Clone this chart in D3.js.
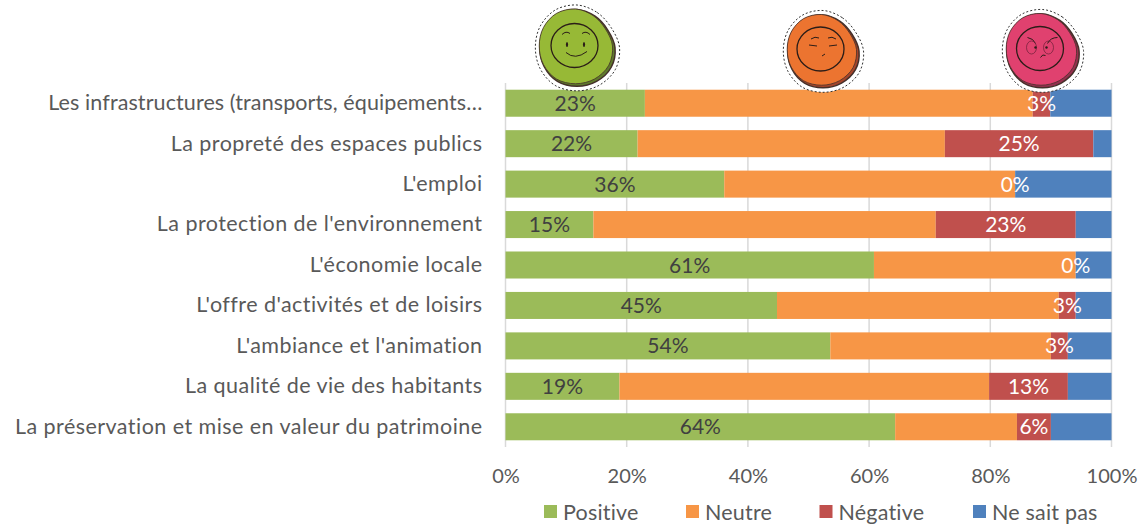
<!DOCTYPE html>
<html>
<head>
<meta charset="utf-8">
<script src="https://d3js.org/d3.v7.min.js"></script>
<style>
	html, body { margin: 0; padding: 0; background: #fff; }
	svg { display: block; }
	text { font-family: Lato, "Open Sans", sans-serif; }
</style>
</head>
<body>
<svg id="chart"></svg>
<script>
const categories = [
	"Les infrastructures (transports, équipements…",
	"La propreté des espaces publics",
	"L'emploi",
	"La protection de l'environnement",
	"L'économie locale",
	"L'offre d'activités et de loisirs",
	"L'ambiance et l'animation",
	"La qualité de vie des habitants",
	"La préservation et mise en valeur du patrimoine"
];
const positive = [23.0, 21.8, 36.1, 14.5, 60.8, 44.8, 53.6, 18.8, 64.3];
const neutre = [64.0, 50.7, 48.0, 56.5, 33.3, 46.5, 36.4, 61.0, 20.1];
const negative = [2.9, 24.5, 0, 23.1, 0, 2.8, 2.8, 13.0, 5.6];
const neSaitPas = [10.1, 3.0, 15.9, 5.9, 5.9, 5.9, 7.2, 7.2, 10.0];
const seriesNames = ["Positive", "Neutre", "Négative", "Ne sait pas"];
const seriesColors = ["#9bbb59", "#f79646", "#c0504d", "#4f81bd"];
const xTicks = [0, 20, 40, 60, 80, 100];

// hand-drawn outline of the smiley stickers, one radius per 30 degrees
const blobShape = [1.0, 0.95, 0.93, 1.0, 1.04, 1.03, 1.02, 1.03, 1.0, 0.98, 1.0, 1.02];
const stickers = [
	{ name: "positive", cx: 577, cy: 47.5, r: 42.5, fill: "#97b936", rim: "#5f7a2c" },
	{ name: "neutre", cx: 823, cy: 51, r: 40.5, fill: "#ec7430", rim: "#a6452a" },
	{ name: "negative", cx: 1042.5, cy: 50.5, r: 41, fill: "#e0416f", rim: "#96304f" }
];

const viewWidth = 1141;
const viewHeight = 524;
const margin = { left: 505.5, right: 29.5, top: 83, bottom: 77 };
const width = viewWidth - margin.left - margin.right;
const height = viewHeight - margin.top - margin.bottom;

const svg = d3.select("#chart")
	.attr("width", viewWidth)
	.attr("height", viewHeight);

const plot = svg.append("g")
	.attr("transform", "translate(" + margin.left + "," + margin.top + ")");

const x = d3.scaleLinear().domain([0, 100]).range([0, width]);
const y = d3.scaleBand().domain(categories).range([0, height])
	.paddingInner(0.332).paddingOuter(0.166);

// gridlines
plot.selectAll("line.grid")
	.data(xTicks)
	.join("line")
	.attr("class", "grid")
	.attr("x1", d => x(d))
	.attr("x2", d => x(d))
	.attr("y1", 0)
	.attr("y2", height)
	.attr("stroke", "#d9d9d9")
	.attr("stroke-width", 1.5);

// stacked bars
const rows = categories.map((c, i) => ({
	category: c,
	Positive: positive[i],
	Neutre: neutre[i],
	"Négative": negative[i],
	"Ne sait pas": neSaitPas[i]
}));
const stacked = d3.stack().keys(seriesNames)(rows);

const layers = plot.selectAll("g.layer")
	.data(stacked)
	.join("g")
	.attr("class", "layer")
	.attr("fill", (d, i) => seriesColors[i]);

layers.selectAll("rect")
	.data(d => d)
	.join("rect")
	.attr("x", d => x(d[0]))
	.attr("y", d => y(d.data.category))
	.attr("width", d => x(d[1]) - x(d[0]))
	.attr("height", y.bandwidth());

// only the Positive and Négative series carry labels
[0, 2].forEach(s => {
	plot.append("g")
		.selectAll("text")
		.data(stacked[s])
		.join("text")
		.attr("x", d => x((d[0] + d[1]) / 2))
		.attr("y", d => y(d.data.category) + y.bandwidth() / 2)
		.attr("dy", ".36em")
		.attr("text-anchor", "middle")
		.attr("font-size", 21)
		.attr("fill", s === 0 ? "#404040" : "#fff")
		.text(d => Math.round(d[1] - d[0]) + "%");
});

// axes
const xAxis = plot.append("g")
	.attr("transform", "translate(0," + height + ")")
	.call(d3.axisBottom(x).tickValues(xTicks).tickSize(0).tickPadding(22).tickFormat(d => d + "%"));
xAxis.select(".domain").remove();
xAxis.selectAll("text").attr("font-size", 20).attr("fill", "#595959");

const yAxis = plot.append("g")
	.call(d3.axisLeft(y).tickSize(0).tickPadding(23));
yAxis.select(".domain").remove();
yAxis.selectAll("text")
	.attr("font-size", 21.5)
	.attr("letter-spacing", (d, i) => i === 0 ? 0.1 : 0.45)
	.attr("fill", "#595959");

// legend
const legendX = d3.scaleOrdinal().domain(seriesNames).range([544, 686, 819.5, 973]);
const legend = svg.append("g")
	.selectAll("g")
	.data(seriesNames)
	.join("g")
	.attr("transform", d => "translate(" + legendX(d) + ",505)");
legend.append("rect")
	.attr("width", 13)
	.attr("height", 13)
	.attr("fill", (d, i) => seriesColors[i]);
legend.append("text")
	.attr("x", 19)
	.attr("y", 14.5)
	.attr("font-size", 21.5)
	.attr("letter-spacing", 0.2)
	.attr("fill", "#595959")
	.text(d => d);

// stickers above the columns
function blob(r) {
	return d3.lineRadial()
		.angle((d, i) => i * Math.PI / 6)
		.radius(d => d * r)
		.curve(d3.curveCardinalClosed)(blobShape);
}

const sticker = svg.append("g")
	.selectAll("g")
	.data(stickers)
	.join("g")
	.attr("transform", d => "translate(" + d.cx + "," + d.cy + ")");

sticker.append("path")
	.attr("d", d => blob(d.r))
	.attr("fill", "#fff")
	.attr("stroke", "#333")
	.attr("stroke-width", 1)
	.attr("stroke-dasharray", "2 2");
sticker.append("path")
	.attr("d", d => blob(d.r - 4.5))
	.attr("fill", d => d.rim)
	.attr("stroke", "#44302a")
	.attr("stroke-width", 1.5);
sticker.append("path")
	.attr("d", d => blob(d.r - 5.5))
	.attr("transform", "translate(-1.5,-1.5)")
	.attr("fill", d => d.fill)
	.attr("stroke", "#44302a")
	.attr("stroke-width", 0.8);
sticker.append("ellipse")
	.attr("cx", -2.5)
	.attr("cy", -2)
	.attr("rx", 23.5)
	.attr("ry", 22)
	.attr("fill", "none")
	.attr("stroke", "#2b1d18")
	.attr("stroke-width", 1.3);

const faces = {
	positive: [
		"M-15,-13 Q-11,-17 -7,-14", "M5,-14 Q9,-17 13,-13",
		"M-11,5 Q-2,13 10,4"
	],
	neutre: [
		"M-12,-12 Q-8,-15 -4,-13", "M5,-13 Q9,-15 13,-12",
		"M-14,-6 L-6,-5", "M6,-5 L14,-6", "M-1,5 L2,3"
	],
	negative: [
		"M-15,-13 Q-9,-12 -7,-7", "M5,-7 Q8,-13 15,-13",
		"M-2,7 Q0,3 3,5"
	]
};
sticker.append("g")
	.selectAll("path")
	.data(d => faces[d.name])
	.join("path")
	.attr("d", d => d)
	.attr("fill", "none")
	.attr("stroke", "#2b1d18")
	.attr("stroke-width", 1);
// eyes
sticker.filter(d => d.name === "positive").selectAll("ellipse.eye")
	.data([-10, 7])
	.join("ellipse")
	.attr("class", "eye")
	.attr("cx", d => d)
	.attr("cy", -3)
	.attr("rx", 1.1)
	.attr("ry", 2.6)
	.attr("fill", "#2b1d18");
sticker.filter(d => d.name === "negative").selectAll("ellipse.eye")
	.data([-11, 6])
	.join("ellipse")
	.attr("class", "eye")
	.attr("cx", d => d)
	.attr("cy", -3)
	.attr("rx", 5)
	.attr("ry", 6.5)
	.attr("fill", "none")
	.attr("stroke", "#6b1f38")
	.attr("stroke-width", 0.7);
sticker.filter(d => d.name === "negative").selectAll("circle.pupil")
	.data([-7, 4])
	.join("circle")
	.attr("class", "pupil")
	.attr("cx", d => d)
	.attr("cy", -3)
	.attr("r", 1.2)
	.attr("fill", "#2b1d18");
</script>
</body>
</html>
